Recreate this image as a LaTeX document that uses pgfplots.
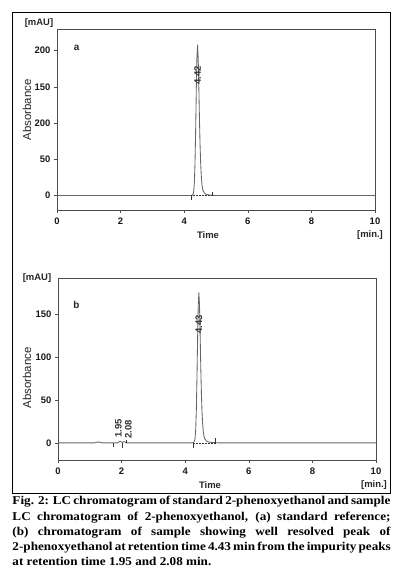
\documentclass[border=0pt]{standalone}
\usepackage{pgfplots}
\pgfplotsset{compat=1.18}
\usepackage{fontspec}
\setmainfont{Liberation Serif}
\setsansfont{Liberation Sans}
\newfontfamily\capfont[FakeStretch=1.1]{Liberation Serif}
\tikzset{pk/.style={rotate=90, font=\sffamily\bfseries\fontsize{9.5}{10}\selectfont, inner sep=0pt, text=black!80},
  trace/.style={black!60, line width=0.85pt, line join=round},
  mk/.style={black!80, line width=0.5pt}}
\begin{document}
\begin{tikzpicture}
\path (0bp,0bp) rectangle (396bp,580bp);
\draw[line width=0.9pt] (12.3bp,87bp) rectangle (390.5bp,567.7bp);
\pgfplotsset{chrom/.style={scale only axis, width=318bp, xmin=0, xmax=10,
  xtick={0,2,4,6,8,10}, axis line style={black!70, line width=0.6pt},
  tick style={black!70, line width=0.5pt}, tick align=outside, major tick length=3bp,
  ticklabel style={font=\sffamily\bfseries\fontsize{9.5}{10}\selectfont, text=black!90},
  xtick pos=bottom, ytick pos=left, /pgf/number format/assume math mode=true,
  xticklabel style={yshift=-1bp}, clip=false}}
% ---------- panel a
\begin{axis}[chrom, at={(57bp,370bp)}, anchor=south west, height=181bp,
  ymin=-20, ymax=230, ytick={0,50,100,150,200}, yticklabels={0,50,200,150,200}]
\addplot[trace] coordinates {(0,0) (4.20,0) (4.25,0.5) (4.28,2) (4.30,6) (4.32,18) (4.34,45) (4.36,90) (4.38,145) (4.40,190) (4.42,208) (4.44,190) (4.46,150) (4.48,105) (4.50,68) (4.52,42) (4.54,25) (4.56,15) (4.58,9) (4.60,6) (4.63,4) (4.66,2.5) (4.70,1.5) (4.75,1) (4.80,0.6) (4.90,0.3) (5.0,0) (10,0)};
\addplot[mk, densely dotted] coordinates {(4.22,0) (4.88,0)};
\addplot[mk] coordinates {(4.22,0) (4.22,-6)};
\addplot[mk] coordinates {(4.88,0) (4.88,5)};
\node[pk] at (axis cs:4.42,166) {4.42};
\node[font=\sffamily\bfseries\fontsize{10}{12}\selectfont, text=black!85] at (axis cs:0.62,204) {a};
\end{axis}
% ---------- panel b
\begin{axis}[chrom, at={(58bp,120bp)}, anchor=south west, height=182bp,
  ymin=-20, ymax=192, ytick={0,50,100,150}]
\addplot[trace] coordinates {(0,0) (1.15,0) (1.22,0.8) (1.30,0.8) (1.38,0) (1.88,0) (1.95,2) (2.01,0.5) (2.08,1.5) (2.14,0) (4.21,0) (4.26,0.4) (4.29,2) (4.31,5) (4.33,15) (4.35,38) (4.37,76) (4.39,122) (4.41,160) (4.43,175) (4.45,160) (4.47,126) (4.49,88) (4.51,57) (4.53,35) (4.55,21) (4.57,13) (4.59,8) (4.61,5) (4.64,3.4) (4.67,2.1) (4.71,1.3) (4.76,0.8) (4.82,0.5) (4.92,0.2) (5.02,0) (10,0)};
\addplot[mk, densely dotted] coordinates {(4.24,0) (4.96,0)};
\addplot[mk] coordinates {(4.24,0) (4.24,-6)};
\addplot[mk] coordinates {(4.96,0) (4.96,6)};
\addplot[mk] coordinates {(1.74,0) (1.74,-5)};
\addplot[mk] coordinates {(2.02,0) (2.02,-6)};
\addplot[mk] coordinates {(2.15,0) (2.15,3)};
\node[pk] at (axis cs:4.43,138) {4.43};
\node[pk] at (axis cs:1.90,17) {1.95};
\node[pk] at (axis cs:2.21,16) {2.08};
\node[font=\sffamily\bfseries\fontsize{10}{12}\selectfont, text=black!85] at (axis cs:0.58,161) {b};
\end{axis}
% ---------- axis texts
\begin{scope}[every node/.style={text=black!85}]
\node[font=\sffamily\bfseries\fontsize{9.5}{11}\selectfont] at (39bp,557bp) {[mAU]};
\node[font=\sffamily\bfseries\fontsize{9.5}{11}\selectfont] at (37bp,302bp) {[mAU]};
\node[rotate=90, font=\sffamily\fontsize{11.5}{13}\selectfont] at (27bp,470bp) {Absorbance};
\node[rotate=90, font=\sffamily\fontsize{11.5}{13}\selectfont] at (27bp,202bp) {Absorbance};
\node[font=\sffamily\bfseries\fontsize{9.5}{11}\selectfont] at (208bp,345bp) {Time};
\node[font=\sffamily\bfseries\fontsize{9.5}{11}\selectfont] at (370bp,345bp) {[min.]};
\node[font=\sffamily\bfseries\fontsize{9.5}{11}\selectfont] at (210bp,95bp) {Time};
\node[font=\sffamily\bfseries\fontsize{9.5}{11}\selectfont] at (374bp,95bp) {[min.]};
\end{scope}
% ---------- caption
\node[anchor=base west, inner sep=0pt] at (12.3bp,75bp) {\parbox[t]{378bp}{\capfont\fontsize{12}{15.3}\selectfont\bfseries
\hbox to 378bp{Fig. 2: LC chromatogram of standard 2-phenoxyethanol and sample}
\hbox to 378bp{LC chromatogram of 2-phenoxyethanol, (a) standard reference;}
\hbox to 378bp{(b) chromatogram of sample showing well resolved peak of}
\hbox to 378bp{2-phenoxyethanol at retention time 4.43 min from the impurity peaks}
\hbox{at retention time 1.95 and 2.08 min.}}};
\end{tikzpicture}
\end{document}
